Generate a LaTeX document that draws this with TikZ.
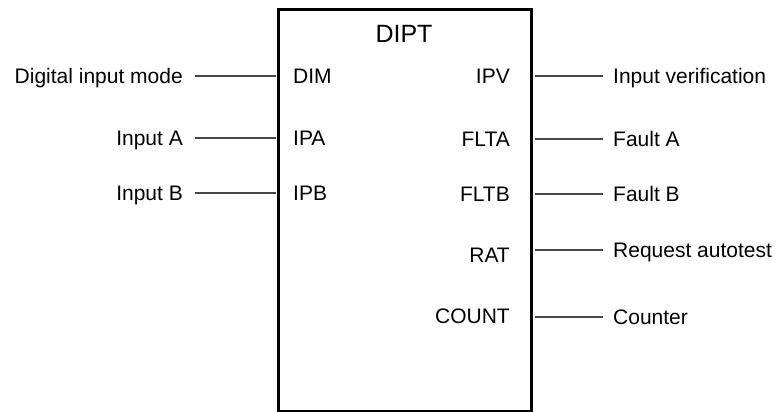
\documentclass[tikz,border=0pt]{standalone}
\usepackage{fontspec}
\setmainfont{Liberation Sans}
\begin{document}
\begin{tikzpicture}[x=1pt,y=-1pt,
  lbl/.style={inner sep=0pt, text height=15.2pt, text depth=0pt,
              font=\fontsize{21}{25}\selectfont},
  ttl/.style={inner sep=0pt, text height=18.2pt, text depth=0pt,
              font=\fontsize{25}{30}\selectfont},
  wire/.style={line width=1.2pt, black!72},
  fblock/.style={draw, line width=3pt, inner sep=0pt, anchor=north west,
                 minimum width=253pt, minimum height=402pt}]
\useasboundingbox (0,0) rectangle (780,412);

% function block
\node[fblock] (blk) at (277,8) {};
\node[ttl] (title) at (404,33) {DIPT};

% inputs
\foreach \pin/\sig/\yy in {DIM/Digital input mode/76, IPA/Input A/138, IPB/Input B/193}{
  \node[lbl, anchor=west] (p\pin) at (293,\yy) {\pin};
  \node[lbl, anchor=east] (s\pin) at (183,\yy) {\sig};
  \draw[wire, shorten <=12pt, shorten >=1.5pt] (s\pin.east) -- (s\pin.east -| blk.west);
}

% outputs
\foreach \pin/\sig/\yp/\ys in {IPV/Input verification/76/76, FLTA/Fault A/139/139,
    FLTB/Fault B/194/194, RAT/Request autotest/255/250, COUNT/Counter/316/317}{
  \node[lbl, anchor=east] (p\pin) at (510,\yp) {\pin};
  \node[lbl, anchor=west] (s\pin) at (613,\ys) {\sig};
  \draw[wire, shorten <=10pt, shorten >=1.5pt] (s\pin.west) -- (s\pin.west -| blk.east);
}
\end{tikzpicture}
\end{document}
